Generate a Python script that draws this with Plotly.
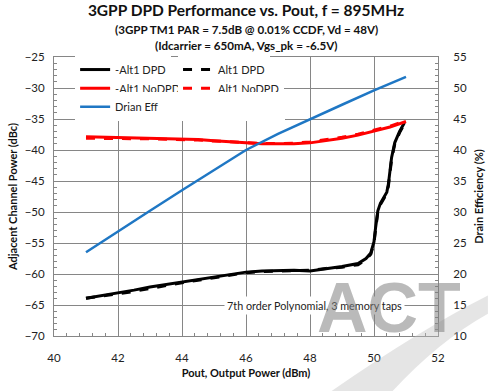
import plotly.graph_objects as go

# ---------------- data ----------------
pout_dpd = [41, 41.5, 42, 42.5, 43, 43.5, 44, 44.5, 45, 45.5, 46, 46.5, 47, 47.5,
            48, 48.5, 49, 49.5, 49.75, 49.9, 50.0, 50.05, 50.12, 50.2, 50.3, 50.4,
            50.45, 50.5, 50.55, 50.65, 50.8, 50.95]
neg_alt1_dpd = [-63.9, -63.5, -63.0, -62.6, -62.1, -61.7, -61.3, -60.8, -60.4, -60.0,
                -59.7, -59.5, -59.4, -59.4, -59.5, -59.2, -58.8, -58.3, -57.5, -56.6,
                -54.8, -52.5, -49.8, -48.6, -47.8, -46.8, -45.5, -43.5, -41.2, -38.8,
                -37.0, -35.6]
pos_alt1_dpd = [-63.9, -63.6, -63.2, -62.8, -62.3, -61.9, -61.4, -61.0, -60.6, -60.1,
                -59.8, -59.6, -59.5, -59.5, -59.4, -59.1, -58.9, -58.5, -57.7, -56.8,
                -55.0, -52.8, -50.0, -48.8, -48.0, -47.0, -45.8, -43.8, -41.5, -39.0,
                -37.2, -35.8]

pout_nodpd = [41, 41.5, 42, 42.5, 43, 43.5, 44, 44.5, 45, 45.5, 46, 46.5, 47, 47.5,
              48, 48.5, 49, 49.5, 50, 50.5, 51]
neg_alt1_nodpd = [-37.85, -37.9, -37.95, -38.0, -38.05, -38.1, -38.2, -38.3, -38.5, -38.7,
                  -38.85, -39.0, -39.0, -39.0, -38.85, -38.5, -38.1, -37.6, -37.0, -36.3,
                  -35.4]
pos_alt1_nodpd = [-38.1, -38.1, -38.15, -38.2, -38.2, -38.25, -38.3, -38.4, -38.55, -38.7,
                  -38.85, -38.95, -38.95, -38.9, -38.7, -38.35, -37.95, -37.45, -36.85,
                  -36.15, -35.3]

pout_eff = [41, 42, 43, 44, 45, 46, 47, 48, 49, 50, 51]
drain_eff = [23.5, 26.9, 30.2, 33.5, 36.8, 40.0, 42.6, 45.0, 47.3, 49.6, 51.8]

x_ticks = [40, 42, 44, 46, 48, 50, 52]
y_left_ticks = [-70, -65, -60, -55, -50, -45, -40, -35, -30, -25]
y_right_ticks = [10, 15, 20, 25, 30, 35, 40, 45, 50, 55]

title_main = "3GPP DPD Performance vs. Pout, f = 895MHz"
subtitle_1 = "(3GPP TM1 PAR = 7.5dB @ 0.01% CCDF, Vd = 48V)"
subtitle_2 = "(Idcarrier = 650mA, Vgs_pk = -6.5V)"
note_text = "7th order Polynomial, 3 memory taps"

# ---------------- style ----------------
FONT = "Lato"
GRID = "#868686"
TXT = "#222222"
BLACK = "#000000"
RED = "#FF0000"
BLUE = "#1F77C4"

fig = go.Figure()
fig.add_trace(go.Scatter(x=pout_dpd, y=neg_alt1_dpd, name="-Alt1 DPD", mode="lines",
                         line=dict(color=BLACK, width=3), legend="legend"))
fig.add_trace(go.Scatter(x=pout_dpd, y=pos_alt1_dpd, name="Alt1 DPD", mode="lines",
                         line=dict(color=BLACK, width=3, dash="dash"), legend="legend2"))
fig.add_trace(go.Scatter(x=pout_nodpd, y=neg_alt1_nodpd, name="-Alt1 NoDPD", mode="lines",
                         line=dict(color=RED, width=3), legend="legend3"))
fig.add_trace(go.Scatter(x=pout_nodpd, y=pos_alt1_nodpd, name="Alt1 NoDPD", mode="lines",
                         line=dict(color=RED, width=3, dash="dash"), legend="legend4"))
fig.add_trace(go.Scatter(x=pout_eff, y=drain_eff, name="Drian Eff", mode="lines",
                         line=dict(color=BLUE, width=2.5), yaxis="y2", legend="legend5"))

def leg(x, y, entrywidth=0):
    d = dict(orientation="h", bgcolor="white", borderwidth=0,
             font=dict(family=FONT, size=11, color=TXT),
             xanchor="left", yanchor="top", x=x, y=y, itemwidth=30)
    if entrywidth:
        d.update(entrywidth=entrywidth, entrywidthmode="pixels")
    return d

COL1, COL2 = 0.055, 0.323
ROW1, ROW2, ROW3 = 1.007, 0.94, 0.874

fig.update_layout(
    width=490, height=391,
    margin=dict(l=54, r=52, t=57, b=55, autoexpand=False),
    paper_bgcolor="white", plot_bgcolor="white",
    font=dict(family=FONT, color=TXT),
    title=dict(text="<b>" + title_main + "</b>", x=0.5, xanchor="center", xref="paper",
               y=0.972, yanchor="middle", font=dict(family=FONT, size=15.5, color="#111111")),
    xaxis=dict(range=[40, 52], tickvals=x_ticks, showgrid=True, gridcolor=GRID, gridwidth=1,
               showline=True, linecolor=GRID, linewidth=1, mirror=True, automargin=False,
               ticks="inside", ticklen=5, tickcolor=GRID, ticklabelstandoff=11,
               minor=dict(dtick=0.4, ticks="inside", ticklen=3, tickcolor=GRID, showgrid=False),
               tickfont=dict(family=FONT, size=11.5, color=TXT), zeroline=False,
               title=dict(text="<b>Pout, Output Power (dBm)</b>", standoff=6,
                          font=dict(family=FONT, size=11, color="#111111"))),
    yaxis=dict(range=[-70, -25], tickvals=y_left_ticks, showgrid=True, gridcolor=GRID,
               gridwidth=1, showline=True, linecolor=GRID, linewidth=1, automargin=False,
               ticks="inside", ticklen=5, tickcolor=GRID, ticklabelstandoff=6,
               minor=dict(dtick=1, ticks="inside", ticklen=3, tickcolor=GRID, showgrid=False),
               tickfont=dict(family=FONT, size=11.5, color=TXT), zeroline=False,
               title=dict(text="<b>Adjacent Channel Power (dBc)</b>", standoff=4,
                          font=dict(family=FONT, size=11, color="#111111"))),
    yaxis2=dict(range=[10, 55], tickvals=y_right_ticks, overlaying="y", side="right",
                showgrid=False, showline=True, linecolor=GRID, linewidth=1, automargin=False,
                ticks="inside", ticklen=5, tickcolor=GRID, ticklabelstandoff=12,
                minor=dict(dtick=1, ticks="inside", ticklen=3, tickcolor=GRID),
                tickfont=dict(family=FONT, size=11.5, color=TXT), zeroline=False,
                title=dict(text="<b>Drain Efficiency (%)</b>", standoff=9,
                           font=dict(family=FONT, size=11, color="#111111"))),
    legend=leg(COL1, ROW1),
    legend2=leg(COL2, ROW1),
    legend3=leg(COL1, ROW2),
    legend4=leg(COL2, ROW2),
    legend5=leg(COL1, ROW3, entrywidth=165),
    showlegend=True,
)

# white backing behind the legend block (hides gridlines there)
fig.add_shape(type="rect", xref="paper", yref="paper", layer="between",
              x0=0.062, x1=0.60, y0=0.80, y1=1.0,
              fillcolor="white", line=dict(width=0))

fig.add_annotation(text="<b>" + subtitle_1 + "</b>", xref="paper", yref="paper",
                   x=0.5, y=1.0, yanchor="middle", yshift=28, showarrow=False,
                   font=dict(family=FONT, size=11.6, color="#111111"))
fig.add_annotation(text="<b>" + subtitle_2 + "</b>", xref="paper", yref="paper",
                   x=0.5, y=1.0, yanchor="middle", yshift=12, showarrow=False,
                   font=dict(family=FONT, size=11.6, color="#111111"))
fig.add_annotation(text=note_text, xref="x", yref="y", x=48.15, y=-65,
                   showarrow=False, bgcolor="white", borderpad=2,
                   font=dict(family=FONT, size=10.8, color=TXT))

# watermark
fig.add_shape(type="path", xref="paper", yref="paper", layer="above",
              path="M 0.72,-0.2 Q 0.95,0.02 1.13,0.145 L 1.13,0.08 Q 1.0,-0.02 0.88,-0.2 Z",
              fillcolor="rgba(190,190,190,0.4)", line=dict(width=0))
fig.add_annotation(text="<b>ACT</b>", xref="paper", yref="paper", x=0.873, y=0.0,
                   xanchor="center", yanchor="bottom", yshift=-13, showarrow=False,
                   font=dict(family="Liberation Sans", size=70, color="rgba(130,130,130,0.55)"))

fig.write_html("out.html", config={"displayModeBar": False},
               post_script="document.body.style.margin='0px';"
                           "document.body.style.overflow='hidden';"
                           "document.documentElement.style.overflow='hidden';")
